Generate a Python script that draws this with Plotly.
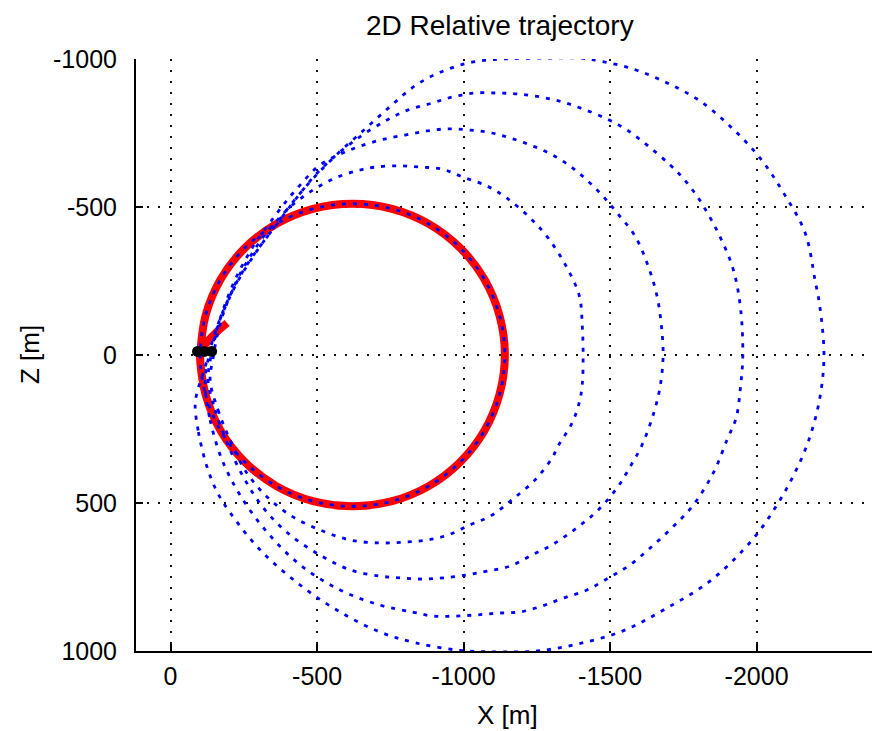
import plotly.graph_objects as go

# ---- data (X [m], Z [m]) ----
loop1_x = [-84, -95, -125, -160, -205, -306, -442, -578, -715, -834, -988, -1120, -1251, -1391, -1544,
           -1688, -1841, -1985, -2063, -2125, -2176, -2215, -2230, -2215, -2200, -2166, -2090, -2012,
           -1916, -1807, -1695, -1579, -1466, -1398, -1283, -1135, -1022, -920, -835, -750, -660, -570,
           -490, -420, -370, -330, -285, -245, -210, -180, -155, -135, -115, -95, -84]
loop1_z = [165, 260, 380, 465, 535, 659, 777, 868, 936, 972, 998, 1003, 1000, 976, 932,
           858, 764, 625, 517, 409, 294, 150, 0, -170, -250, -412, -551, -665,
           -767, -858, -919, -966, -993, -1003, -1003, -1000, -988, -955, -910, -840, -760, -680,
           -600, -520, -455, -400, -340, -280, -215, -150, -85, -20, 50, 110, 165]

loop2_x = [-118, -135, -176, -237, -323, -442, -579, -715, -824, -896, -971, -1045, -1118, -1193, -1268,
           -1341, -1421, -1500, -1568, -1637, -1711, -1780, -1852, -1899, -1930, -1945, -1953, -1945,
           -1920, -1869, -1801, -1746, -1705, -1630, -1558, -1490, -1408, -1336, -1261, -1186, -1114,
           -1039, -964, -892, -811, -739, -630, -510, -425, -365, -315, -270, -230, -195, -165, -145,
           -125, -118]
loop2_z = [101, 220, 355, 473, 591, 709, 794, 845, 868, 882, 882, 878, 872, 868, 848,
           821, 794, 750, 709, 652, 584, 512, 399, 287, 213, 110, 0, -160,
           -290, -412, -530, -601, -642, -706, -760, -797, -831, -855, -872, -882, -885,
           -885, -872, -851, -828, -794, -726, -625, -524, -445, -380, -315, -250, -180, -110, -40,
           30, 101]

loop3_x = [-128, -152, -196, -254, -323, -408, -510, -613, -715, -784, -858, -930, -1012, -1080, -1159,
           -1233, -1306, -1381, -1456, -1524, -1568, -1609, -1650, -1672, -1681, -1675, -1660, -1630,
           -1585, -1524, -1466, -1398, -1323, -1244, -1169, -1097, -1022, -947, -875, -800, -715, -613,
           -510, -442, -391, -345, -300, -260, -225, -195, -170, -150, -135, -128]
loop3_z = [85, 186, 304, 422, 524, 608, 676, 726, 747, 753, 757, 753, 743, 730, 713,
           676, 639, 588, 527, 449, 378, 304, 193, 100, 0, -100, -200, -300,
           -402, -480, -547, -611, -665, -703, -730, -750, -760, -764, -757, -743, -726, -693,
           -642, -574, -515, -455, -395, -330, -265, -195, -125, -50, 20, 85]

loop4_x = [-135, -162, -203, -254, -323, -408, -510, -613, -715, -800, -875, -947, -1022, -1097, -1169,
           -1244, -1302, -1323, -1370, -1395, -1405, -1408, -1405, -1395, -1350, -1289, -1227, -1148,
           -1080, -998, -927, -851, -776, -700, -647, -562, -476, -408, -355, -310, -270, -235, -205,
           -180, -160, -145, -135]
loop4_z = [85, 186, 287, 389, 473, 541, 591, 625, 635, 632, 625, 608, 574, 541, 486,
           422, 348, 307, 230, 160, 100, 0, -100, -200, -300, -395, -463, -530,
           -571, -601, -628, -635, -639, -635, -625, -598, -551, -500, -445, -390, -330, -270, -205,
           -140, -70, 10, 85]

circle_x = [-101, -119, -171, -253, -361, -486, -621, -756, -881, -989, -1071, -1123, -1141,
            -1123, -1071, -989, -881, -756, -621, -486, -361, -253, -171, -119, -101]
circle_z = [0, 132, 256, 361, 443, 494, 511, 494, 443, 361, 256, 132, 0,
            -132, -256, -361, -443, -494, -511, -494, -443, -361, -256, -132, 0]

tail_x = [-193, -160, -130, -105]
tail_z = [-108, -80, -50, -15]

start_x = [-92, -115, -140]
start_z = [-12, -12, -12]

x_ticks = [0, -500, -1000, -1500, -2000]
z_ticks = [-1000, -500, 0, 500, 1000]

FONT = "Liberation Sans"

fig = go.Figure()

# red final orbit (thick)
fig.add_trace(go.Scatter(x=tail_x + circle_x, y=tail_z + circle_z, mode="lines",
                         line=dict(color="#ff0000", width=8, shape="spline", smoothing=1.0),
                         hoverinfo="skip", showlegend=False))

# blue dotted trajectory loops
for lx, lz in [(loop1_x, loop1_z), (loop2_x, loop2_z), (loop3_x, loop3_z),
               (loop4_x, loop4_z), (circle_x, circle_z)]:
    fig.add_trace(go.Scatter(x=lx, y=lz, mode="lines",
                             line=dict(color="#0000ff", width=2.8, dash="4px,7px",
                                       shape="spline", smoothing=1.0),
                             hoverinfo="skip", showlegend=False))

# black start markers
fig.add_trace(go.Scatter(x=start_x, y=start_z, mode="markers",
                         marker=dict(color="black", size=11, symbol="circle"),
                         hoverinfo="skip", showlegend=False))

axis_common = dict(
    showline=True, linecolor="black", linewidth=2, mirror=False,
    ticks="inside", ticklen=7, tickwidth=1.5, tickcolor="black",
    showgrid=True, gridcolor="#111111", gridwidth=1.5, griddash="2px,9px",
    zeroline=False, tickfont=dict(family=FONT, size=25, color="black"),
)

fig.update_xaxes(range=[118, -2411], tickvals=x_ticks, ticktext=[str(v) for v in x_ticks],
                 ticklabelstandoff=2, **axis_common)
fig.update_yaxes(range=[1000, -1000], tickvals=z_ticks, ticktext=[str(v) for v in z_ticks],
                 ticklabelstandoff=12, **axis_common)

# page body adds an 8px offset, so the figure is sized to fit 880x731 with it
fig.update_layout(
    width=872, height=723,
    margin=dict(l=128, r=3, t=51, b=80),
    paper_bgcolor="white", plot_bgcolor="white",
    font=dict(family=FONT, color="black"),
    annotations=[
        dict(text="2D Relative trajectory", xref="paper", yref="paper", x=0.491, y=1.0574,
             xanchor="center", yanchor="middle", showarrow=False,
             font=dict(family=FONT, size=28, color="black")),
        dict(text="X [m]", xref="paper", yref="paper", x=0.501, y=-0.108,
             xanchor="center", yanchor="middle", showarrow=False,
             font=dict(family=FONT, size=26, color="black")),
        dict(text="Z [m]", xref="paper", yref="paper", x=-0.143, y=0.5, textangle=-90,
             xanchor="center", yanchor="middle", showarrow=False,
             font=dict(family=FONT, size=26, color="black")),
    ],
)

fig.write_html("out.html")
